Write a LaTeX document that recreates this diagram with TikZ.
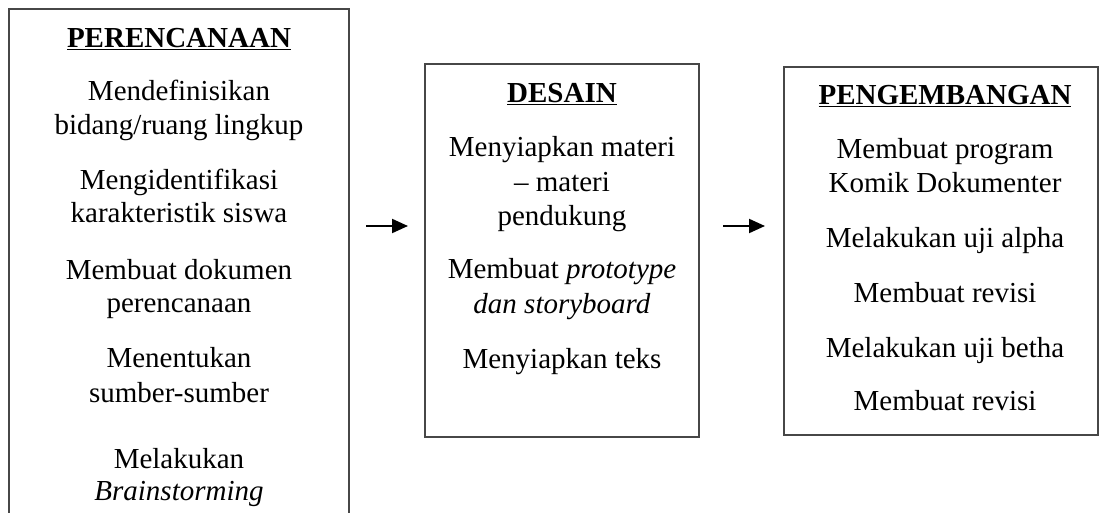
\documentclass[tikz,border=0pt]{standalone}
\usepackage{fontspec}
\setmainfont{Liberation Serif}
\usetikzlibrary{arrows.meta}
\tikzset{
  box/.style={draw=black!72, line width=1.4pt, rectangle, inner sep=0pt},
  txt/.style={anchor=base, inner sep=0pt, font=\fontsize{29}{33}\selectfont},
  ttl/.style={txt, font=\fontsize{29}{33}\selectfont\bfseries},
  flow/.style={line width=2pt, -{Triangle[length=16pt,width=14pt]}}
}
\begin{document}
\begin{tikzpicture}[x=1pt,y=1pt]
\useasboundingbox (0,0) rectangle (1099,512);
\clip (0,0) rectangle (1099,512);
% boxes
\node[box, minimum width=340pt, minimum height=520pt] (b1) at (179,243) {};
\node[box, minimum width=274pt, minimum height=373pt] (b2) at (562,261.5) {};
\node[box, minimum width=314pt, minimum height=368pt] (b3) at (941,261) {};
% arrows
\coordinate (a1s) at (366,286);
\coordinate (a1e) at (408,286);
\coordinate (a2s) at (723,286);
\coordinate (a2e) at (765,286);
\draw[flow] (a1s) -- (a1e);
\draw[flow] (a2s) -- (a2e);
% box 1
\node[ttl] (t1) at (179,464) {\underline{PERENCANAAN}};
\node[txt] (l11) at (179,411) {Mendefinisikan};
\node[txt] (l12) at (179,377) {bidang/ruang lingkup};
\node[txt] (l13) at (179,322) {Mengidentifikasi};
\node[txt] (l14) at (179,290) {karakteristik siswa};
\node[txt] (l15) at (179,233) {Membuat dokumen};
\node[txt] (l16) at (179,200) {perencanaan};
\node[txt] (l17) at (179,145) {Menentukan};
\node[txt] (l18) at (179,110) {sumber-sumber};
\node[txt] (l19) at (179,44) {Melakukan};
\node[txt] (l1a) at (179,12) {\textit{Brainstorming}};
% box 2
\node[ttl] (t2) at (562,409) {\underline{DESAIN}};
\node[txt] (l21) at (562,355) {Menyiapkan materi};
\node[txt] (l22) at (562,320) {– materi};
\node[txt] (l23) at (562,287) {pendukung};
\node[txt] (l24) at (562,234) {Membuat \textit{prototype}};
\node[txt] (l25) at (562,199) {\textit{dan storyboard}};
\node[txt] (l26) at (562,144) {Menyiapkan teks};
% box 3
\node[ttl] (t3) at (945,407) {\underline{PENGEMBANGAN}};
\node[txt] (l31) at (945,353) {Membuat program};
\node[txt] (l32) at (945,319) {Komik Dokumenter};
\node[txt] (l33) at (945,265) {Melakukan uji alpha};
\node[txt] (l34) at (945,210) {Membuat revisi};
\node[txt] (l35) at (945,155) {Melakukan uji betha};
\node[txt] (l36) at (945,102) {Membuat revisi};
\end{tikzpicture}
\end{document}
